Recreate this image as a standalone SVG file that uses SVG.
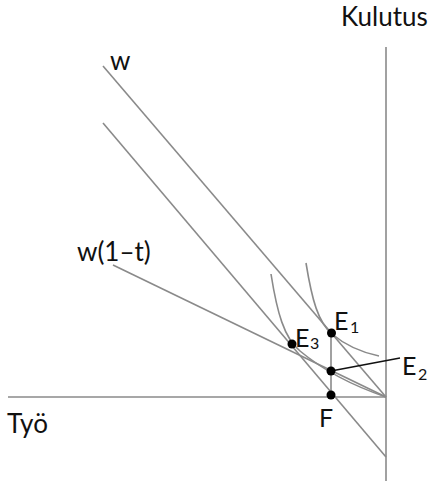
<svg xmlns="http://www.w3.org/2000/svg" width="430" height="481" viewBox="0 0 430 481">
<style>
.ln{stroke:#8a8a8a;stroke-width:1.6;fill:none}
.cv{stroke:#8a8a8a;stroke-width:1.6;fill:none}
.lbl{font-family:"Lato","Liberation Sans",sans-serif;font-size:26px;fill:#111}
.pt{font-family:"Lato","Liberation Sans",sans-serif;font-size:25px;fill:#111}
.sub{font-family:"Lato","Liberation Sans",sans-serif;font-size:16px;fill:#111}
.dot{fill:#000}
</style>
<rect width="430" height="481" fill="#fff"/>
<g id="axes">
<line class="ln" x1="386" y1="47" x2="386" y2="481"/>
<line class="ln" x1="8" y1="397" x2="386" y2="397"/>
</g>
<g id="connectors">
<line class="ln" x1="103" y1="66" x2="386" y2="397"/>
<line class="ln" x1="103" y1="123" x2="386" y2="457"/>
<line class="ln" x1="113" y1="265" x2="386" y2="397"/>
<line class="ln" x1="331" y1="333" x2="331" y2="395"/>
<path class="cv" d="M306,263 C312,300 318,322 332,334 C345,345 360,352 379,356"/>
<path class="cv" d="M271,274 C277,312 284,338 300,351 C318,366 345,383 386,397"/>
<line x1="331" y1="371" x2="400" y2="358" stroke="#111" stroke-width="1.6"/>
</g>
<g id="E1"><circle class="dot" cx="331.5" cy="333" r="4.5"/><text class="pt" x="334" y="330">E</text><text class="sub" x="350" y="333">1</text></g>
<g id="E2"><circle class="dot" cx="331" cy="371" r="4.5"/><text class="pt" x="402" y="375">E</text><text class="sub" x="418" y="380">2</text></g>
<g id="E3"><circle class="dot" cx="292" cy="344" r="4.5"/><text class="pt" x="295" y="347">E</text><text class="sub" x="310" y="349">3</text></g>
<g id="F"><circle class="dot" cx="331" cy="395" r="4.5"/><text class="pt" x="319" y="427">F</text></g>
<g id="labels">
<text class="lbl" x="341" y="26">Kulutus</text>
<text class="lbl" x="110" y="70">w</text>
<text class="lbl" x="77" y="261">w(1–t)</text>
<text class="lbl" x="7" y="433">Työ</text>
</g>
</svg>
